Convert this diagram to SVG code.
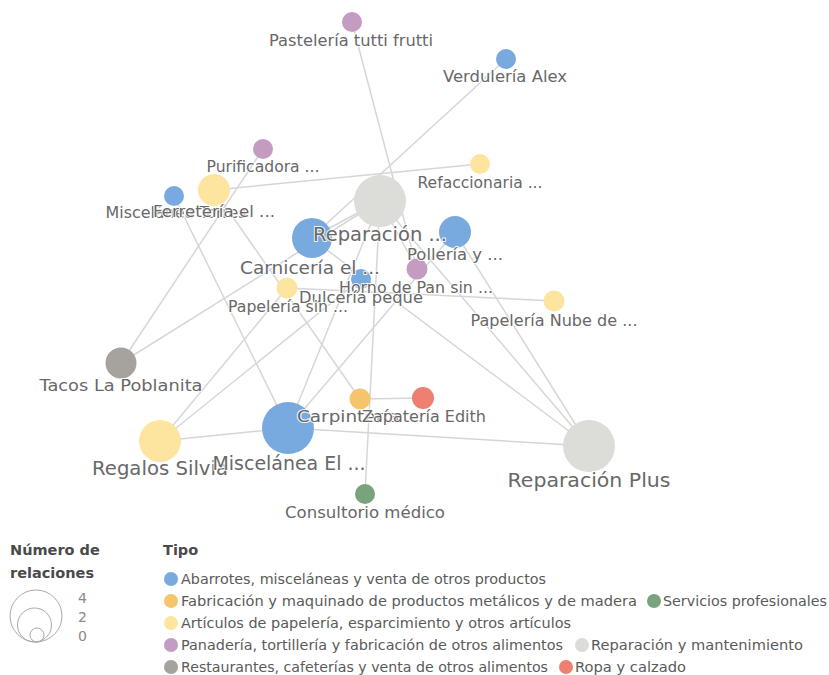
<svg xmlns="http://www.w3.org/2000/svg" width="829" height="675" viewBox="0 0 829 675">
  <style>
    .bg { fill: #ffffff; }
    .edge { stroke: #d6d6d6; stroke-width: 1.5; fill: none; }
    .lbl { font-family: "DejaVu Sans", "Liberation Sans", sans-serif; fill: #686868; text-anchor: middle;
           stroke: #ffffff; stroke-width: 2.2; stroke-opacity: 0.85; paint-order: stroke; stroke-linejoin: round; }
    .s { font-size: 15.5px; }
    .m { font-size: 16.5px; }
    .l { font-size: 18.5px; }
    .xl { font-size: 20px; }
    .c-abarrotes { fill: #79aadf; }
    .c-fabric { fill: #f6c46c; }
    .c-papel { fill: #fde59f; }
    .c-panad { fill: #c49bc1; }
    .c-rest { fill: #a6a39e; }
    .c-serv { fill: #79a37d; }
    .c-repar { fill: #dcdcd9; }
    .c-ropa { fill: #ed8070; }
    .lg-title { font-family: "DejaVu Sans", "Liberation Sans", sans-serif; font-size: 14.5px; font-weight: bold; fill: #4a4a4a; }
    .lg-text { font-family: "DejaVu Sans", "Liberation Sans", sans-serif; font-size: 14.3px; fill: #5a5a5a; }
    .lg-num { font-family: "DejaVu Sans", "Liberation Sans", sans-serif; font-size: 14px; fill: #8a8a8a; }
    .lg-ring { fill: none; stroke: #a9a9a9; stroke-width: 1; }
  </style>

  <rect class="bg" x="0" y="0" width="829" height="675"/>

  <!-- connectors -->
  <g id="edges">
    <line class="edge" x1="352" y1="22" x2="417" y2="269"/>
    <line class="edge" x1="506" y1="59" x2="311" y2="238"/>
    <line class="edge" x1="263" y1="149" x2="121" y2="363"/>
    <line class="edge" x1="214" y1="190" x2="480" y2="164"/>
    <line class="edge" x1="174" y1="196" x2="288" y2="428"/>
    <line class="edge" x1="214" y1="190" x2="360" y2="399"/>
    <line class="edge" x1="121" y1="363" x2="380" y2="201"/>
    <line class="edge" x1="160" y1="441" x2="287" y2="288"/>
    <line class="edge" x1="160" y1="441" x2="361" y2="279"/>
    <line class="edge" x1="160" y1="441" x2="288" y2="428"/>
    <line class="edge" x1="288" y1="428" x2="589" y2="446"/>
    <line class="edge" x1="288" y1="428" x2="380" y2="201"/>
    <line class="edge" x1="288" y1="428" x2="455" y2="232"/>
    <line class="edge" x1="380" y1="201" x2="365" y2="494"/>
    <line class="edge" x1="380" y1="201" x2="589" y2="446"/>
    <line class="edge" x1="455" y1="232" x2="589" y2="446"/>
    <line class="edge" x1="311" y1="238" x2="589" y2="446"/>
    <line class="edge" x1="287" y1="288" x2="554" y2="301"/>
    <line class="edge" x1="360" y1="399" x2="423" y2="398"/>
    <line class="edge" x1="380" y1="201" x2="417" y2="269"/>
    <line class="edge" x1="311" y1="238" x2="380" y2="201"/>
  </g>

  <!-- nodes -->
  <g id="node-pasteleria"><circle class="c-panad" cx="352" cy="22" r="10"/></g>
  <g id="node-verduleria"><circle class="c-abarrotes" cx="506" cy="59" r="10"/></g>
  <g id="node-purificadora"><circle class="c-panad" cx="263" cy="149" r="10"/></g>
  <g id="node-refaccionaria"><circle class="c-papel" cx="480" cy="164" r="10"/></g>
  <g id="node-miscelanea-torres"><circle class="c-abarrotes" cx="174" cy="196" r="10"/></g>
  <g id="node-ferreteria"><circle class="c-papel" cx="214" cy="190" r="16"/></g>
  <g id="node-reparacion"><circle class="c-repar" cx="380" cy="201" r="26"/></g>
  <g id="node-carniceria"><circle class="c-abarrotes" cx="312" cy="238" r="20"/></g>
  <g id="node-polleria"><circle class="c-abarrotes" cx="455" cy="232" r="16"/></g>
  <g id="node-horno"><circle class="c-panad" cx="417" cy="269" r="10.5"/></g>
  <g id="node-dulceria"><circle class="c-abarrotes" cx="361" cy="279" r="10"/></g>
  <g id="node-papeleria-sin"><circle class="c-papel" cx="287" cy="288" r="10.5"/></g>
  <g id="node-papeleria-nube"><circle class="c-papel" cx="554" cy="301" r="10.5"/></g>
  <g id="node-tacos"><circle class="c-rest" cx="121" cy="363" r="15.5"/></g>
  <g id="node-regalos"><circle class="c-papel" cx="160" cy="441" r="21"/></g>
  <g id="node-miscelanea-el"><circle class="c-abarrotes" cx="288" cy="428" r="26"/></g>
  <g id="node-carpinteria"><circle class="c-fabric" cx="360" cy="399" r="10.5"/></g>
  <g id="node-zapateria"><circle class="c-ropa" cx="423" cy="398" r="11"/></g>
  <g id="node-consultorio"><circle class="c-serv" cx="365" cy="494" r="10"/></g>
  <g id="node-reparacion-plus"><circle class="c-repar" cx="589" cy="446" r="26"/></g>

  <!-- node labels -->
  <g id="labels">
    <text class="lbl s" x="351" y="46" textLength="164" lengthAdjust="spacingAndGlyphs">Pastelería tutti frutti</text>
    <text class="lbl s" x="505" y="82" textLength="124" lengthAdjust="spacingAndGlyphs">Verdulería Alex</text>
    <text class="lbl s" x="263" y="172" textLength="113" lengthAdjust="spacingAndGlyphs">Purificadora ...</text>
    <text class="lbl s" x="480" y="188" textLength="125" lengthAdjust="spacingAndGlyphs">Refaccionaria ...</text>
    <text class="lbl s" x="176" y="218" textLength="141" lengthAdjust="spacingAndGlyphs">Miscelánea Torres</text>
    <text class="lbl m" x="214" y="217" textLength="122" lengthAdjust="spacingAndGlyphs">Ferretería el ...</text>
    <text class="lbl xl" x="380" y="241" textLength="134" lengthAdjust="spacingAndGlyphs">Reparación ...</text>
    <text class="lbl l" x="310" y="274" textLength="140" lengthAdjust="spacingAndGlyphs">Carnicería el ...</text>
    <text class="lbl m" x="455" y="260" textLength="96" lengthAdjust="spacingAndGlyphs">Pollería y ...</text>
    <text class="lbl s" x="416" y="293" textLength="154" lengthAdjust="spacingAndGlyphs">Horno de Pan sin ...</text>
    <text class="lbl s" x="361" y="303" textLength="124" lengthAdjust="spacingAndGlyphs">Dulcería peque</text>
    <text class="lbl s" x="288" y="312" textLength="120" lengthAdjust="spacingAndGlyphs">Papelería sin ...</text>
    <text class="lbl s" x="554" y="326" textLength="167" lengthAdjust="spacingAndGlyphs">Papelería Nube de ...</text>
    <text class="lbl m" x="121" y="391" textLength="163" lengthAdjust="spacingAndGlyphs">Tacos La Poblanita</text>
    <text class="lbl xl" x="160" y="475" textLength="136" lengthAdjust="spacingAndGlyphs">Regalos Silvia</text>
    <text class="lbl xl" x="289" y="470" textLength="153" lengthAdjust="spacingAndGlyphs">Miscelánea El ...</text>
    <text class="lbl s" x="360" y="422" textLength="126" lengthAdjust="spacingAndGlyphs">Carpintería ...</text>
    <text class="lbl s" x="424" y="422" textLength="124" lengthAdjust="spacingAndGlyphs">Zapatería Edith</text>
    <text class="lbl s" x="365" y="518" textLength="160" lengthAdjust="spacingAndGlyphs">Consultorio médico</text>
    <text class="lbl xl" x="589" y="487" textLength="163" lengthAdjust="spacingAndGlyphs">Reparación Plus</text>
  </g>

  <!-- size legend -->
  <g id="legend-size">
    <text class="lg-title" x="10" y="555">Número de</text>
    <text class="lg-title" x="10" y="578">relaciones</text>
    <circle class="lg-ring" cx="36" cy="616" r="26"/>
    <circle class="lg-ring" cx="34.5" cy="625" r="17"/>
    <circle class="lg-ring" cx="37" cy="635" r="7"/>
    <text class="lg-num" x="78" y="603">4</text>
    <text class="lg-num" x="78" y="622">2</text>
    <text class="lg-num" x="78" y="641">0</text>
  </g>

  <!-- type legend -->
  <g id="legend-type">
    <text class="lg-title" x="163" y="555">Tipo</text>
    <circle class="c-abarrotes" cx="171" cy="579" r="7"/>
    <text class="lg-text" x="181" y="584" textLength="365" lengthAdjust="spacingAndGlyphs">Abarrotes, misceláneas y venta de otros productos</text>
    <circle class="c-fabric" cx="171" cy="601" r="7"/>
    <text class="lg-text" x="181" y="606" textLength="456" lengthAdjust="spacingAndGlyphs">Fabricación y maquinado de productos metálicos y de madera</text>
    <circle class="c-serv" cx="654" cy="601" r="7"/>
    <text class="lg-text" x="663" y="606" textLength="164" lengthAdjust="spacingAndGlyphs">Servicios profesionales</text>
    <circle class="c-papel" cx="171" cy="623" r="7"/>
    <text class="lg-text" x="181" y="628" textLength="390" lengthAdjust="spacingAndGlyphs">Artículos de papelería, esparcimiento y otros artículos</text>
    <circle class="c-panad" cx="171" cy="645" r="7"/>
    <text class="lg-text" x="181" y="650" textLength="382" lengthAdjust="spacingAndGlyphs">Panadería, tortillería y fabricación de otros alimentos</text>
    <circle class="c-repar" cx="582" cy="645" r="7"/>
    <text class="lg-text" x="591" y="650" textLength="212" lengthAdjust="spacingAndGlyphs">Reparación y mantenimiento</text>
    <circle class="c-rest" cx="171" cy="667" r="7"/>
    <text class="lg-text" x="181" y="672" textLength="367" lengthAdjust="spacingAndGlyphs">Restaurantes, cafeterías y venta de otros alimentos</text>
    <circle class="c-ropa" cx="566" cy="667" r="7"/>
    <text class="lg-text" x="575" y="672" textLength="111" lengthAdjust="spacingAndGlyphs">Ropa y calzado</text>
  </g>
</svg>
